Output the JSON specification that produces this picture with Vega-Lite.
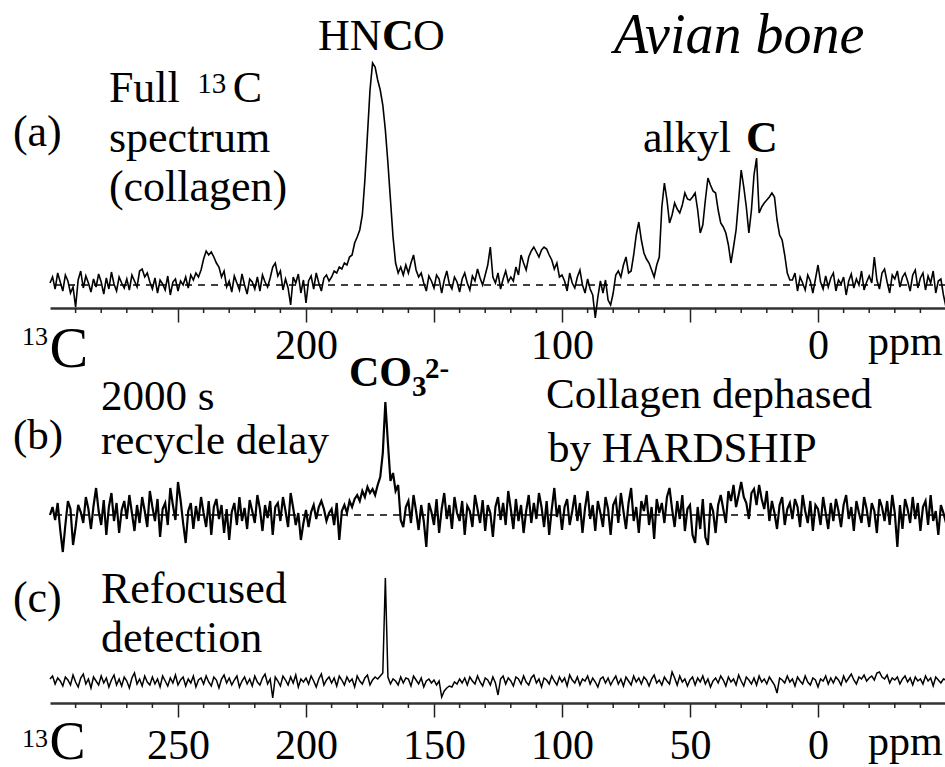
{
"$schema": "https://vega.github.io/schema/vega-lite/v6.json",
"background": "white",
"padding": {"left": 12, "top": 0, "right": 0, "bottom": 0},
"autosize": {"type": "pad"},
"bounds": "flush",
"spacing": 0,
"config": {"view": {"stroke": null}},
"datasets": {
"spec": [
{"x":300,"a":2,"b":0,"c":3},{"x":299,"a":8,"b":8,"c":6},{"x":298,"a":-4,"b":-5,"c":-2},{"x":297,"a":12,"b":12,"c":4},{"x":296,"a":3,"b":-15,"c":1},{"x":295,"a":-6,"b":-37,"c":-4},{"x":294,"a":10,"b":-10,"c":5},{"x":293,"a":4,"b":14,"c":2},{"x":292,"a":-8,"b":6,"c":-3},{"x":291,"a":-2,"b":-30,"c":7},
{"x":290,"a":-22,"b":-12,"c":0},{"x":289,"a":5,"b":10,"c":-5},{"x":288,"a":14,"b":3,"c":4},{"x":287,"a":-3,"b":-8,"c":8},{"x":286,"a":9,"b":18,"c":-2},{"x":285,"a":2,"b":6,"c":3},{"x":284,"a":-7,"b":-14,"c":-6},{"x":283,"a":6,"b":9,"c":5},{"x":282,"a":-2,"b":27,"c":1},{"x":281,"a":11,"b":4,"c":-3},
{"x":280,"a":3,"b":-10,"c":6},{"x":279,"a":-9,"b":15,"c":-1},{"x":278,"a":7,"b":-20,"c":4},{"x":277,"a":-4,"b":8,"c":-5},{"x":276,"a":13,"b":22,"c":2},{"x":275,"a":1,"b":-6,"c":7},{"x":274,"a":-6,"b":12,"c":-3},{"x":273,"a":8,"b":-18,"c":3},{"x":272,"a":2,"b":5,"c":-4},{"x":271,"a":-3,"b":14,"c":5},
{"x":270,"a":6,"b":-4,"c":1},{"x":269,"a":-5,"b":20,"c":-6},{"x":268,"a":10,"b":2,"c":4},{"x":267,"a":4,"b":-16,"c":9},{"x":266,"a":-2,"b":10,"c":-2},{"x":265,"a":14,"b":-8,"c":3},{"x":264,"a":16,"b":18,"c":-4},{"x":263,"a":8,"b":4,"c":6},{"x":262,"a":12,"b":-12,"c":0},{"x":261,"a":3,"b":24,"c":-3},
{"x":260,"a":-4,"b":8,"c":5},{"x":259,"a":7,"b":-6,"c":-2},{"x":258,"a":-8,"b":16,"c":3},{"x":257,"a":5,"b":-22,"c":-5},{"x":256,"a":1,"b":6,"c":6},{"x":255,"a":-5,"b":12,"c":1},{"x":254,"a":9,"b":-10,"c":-4},{"x":253,"a":-10,"b":27,"c":4},{"x":252,"a":3,"b":10,"c":-1},{"x":251,"a":6,"b":-5,"c":7},
{"x":250,"a":-6,"b":33,"c":-3},{"x":249,"a":4,"b":15,"c":2},{"x":248,"a":0,"b":-8,"c":5},{"x":247,"a":8,"b":-28,"c":-4},{"x":246,"a":-3,"b":4,"c":3},{"x":245,"a":10,"b":12,"c":-1},{"x":244,"a":5,"b":-14,"c":6},{"x":243,"a":12,"b":9,"c":-5},{"x":242,"a":8,"b":-6,"c":2},{"x":241,"a":15,"b":18,"c":4},
{"x":240,"a":26,"b":2,"c":-2},{"x":239,"a":34,"b":-12,"c":6},{"x":238,"a":30,"b":14,"c":0},{"x":237,"a":33,"b":-20,"c":-4},{"x":236,"a":28,"b":8,"c":5},{"x":235,"a":22,"b":16,"c":2},{"x":234,"a":18,"b":-4,"c":-6},{"x":233,"a":8,"b":10,"c":3},{"x":232,"a":14,"b":-18,"c":7},{"x":231,"a":-2,"b":6,"c":-1},
{"x":230,"a":4,"b":-25,"c":4},{"x":229,"a":-7,"b":3,"c":-3},{"x":228,"a":9,"b":12,"c":2},{"x":227,"a":2,"b":-10,"c":6},{"x":226,"a":-5,"b":18,"c":-5},{"x":225,"a":11,"b":-6,"c":1},{"x":224,"a":0,"b":7,"c":5},{"x":223,"a":-9,"b":-14,"c":-2},{"x":222,"a":6,"b":15,"c":3},{"x":221,"a":3,"b":4,"c":-4},
{"x":220,"a":-4,"b":-8,"c":6},{"x":219,"a":8,"b":20,"c":0},{"x":218,"a":-6,"b":6,"c":-3},{"x":217,"a":10,"b":-16,"c":4},{"x":216,"a":3,"b":10,"c":8},{"x":215,"a":-2,"b":-3,"c":-2},{"x":214,"a":7,"b":14,"c":3},{"x":213,"a":18,"b":-20,"c":-16},{"x":212,"a":22,"b":8,"c":5},{"x":211,"a":9,"b":12,"c":1},
{"x":210,"a":14,"b":-6,"c":-4},{"x":209,"a":-5,"b":18,"c":6},{"x":208,"a":6,"b":4,"c":2},{"x":207,"a":-3,"b":-12,"c":-3},{"x":206,"a":-20,"b":22,"c":5},{"x":205,"a":8,"b":7,"c":-1},{"x":204,"a":2,"b":-10,"c":7},{"x":203,"a":11,"b":2,"c":-5},{"x":202,"a":-8,"b":-25,"c":3},{"x":201,"a":5,"b":-8,"c":0},
{"x":200,"a":-18,"b":5,"c":4},{"x":199,"a":4,"b":-12,"c":-2},{"x":198,"a":9,"b":3,"c":6},{"x":197,"a":-4,"b":10,"c":1},{"x":196,"a":12,"b":-4,"c":-5},{"x":195,"a":2,"b":8,"c":3},{"x":194,"a":-6,"b":14,"c":8},{"x":193,"a":7,"b":6,"c":-3},{"x":192,"a":10,"b":-6,"c":2},{"x":191,"a":4,"b":2,"c":5},
{"x":190,"a":8,"b":6,"c":-1},{"x":189,"a":14,"b":-10,"c":4},{"x":188,"a":12,"b":12,"c":-4},{"x":187,"a":18,"b":-25,"c":6},{"x":186,"a":16,"b":4,"c":2},{"x":185,"a":22,"b":10,"c":-3},{"x":184,"a":20,"b":2,"c":5},{"x":183,"a":28,"b":14,"c":0},{"x":182,"a":30,"b":8,"c":3},{"x":181,"a":42,"b":16,"c":-5},
{"x":180,"a":48,"b":20,"c":6},{"x":179,"a":55,"b":14,"c":1},{"x":178,"a":70,"b":24,"c":-2},{"x":177,"a":105,"b":18,"c":4},{"x":176,"a":150,"b":28,"c":7},{"x":175,"a":195,"b":22,"c":-3},{"x":174,"a":222,"b":26,"c":2},{"x":173,"a":218,"b":20,"c":5},{"x":172,"a":205,"b":30,"c":3},{"x":171,"a":195,"b":38,"c":6},
{"x":170,"a":180,"b":62,"c":9},{"x":169,"a":155,"b":113,"c":104},{"x":168,"a":122,"b":72,"c":5},{"x":167,"a":85,"b":34,"c":-2},{"x":166,"a":48,"b":42,"c":3},{"x":165,"a":22,"b":24,"c":1},{"x":164,"a":12,"b":30,"c":-3},{"x":163,"a":18,"b":-5,"c":5},{"x":162,"a":10,"b":-12,"c":-1},{"x":161,"a":20,"b":8,"c":4},
{"x":160,"a":12,"b":14,"c":3},{"x":159,"a":22,"b":-8,"c":-4},{"x":158,"a":30,"b":20,"c":6},{"x":157,"a":15,"b":4,"c":2},{"x":156,"a":8,"b":-15,"c":-2},{"x":155,"a":12,"b":10,"c":4},{"x":154,"a":2,"b":-6,"c":-5},{"x":153,"a":-6,"b":-32,"c":1},{"x":152,"a":9,"b":12,"c":3},{"x":151,"a":4,"b":3,"c":-1},
{"x":150,"a":-3,"b":-10,"c":2},{"x":149,"a":10,"b":16,"c":-3},{"x":148,"a":6,"b":-18,"c":1},{"x":147,"a":-8,"b":6,"c":-15},{"x":146,"a":5,"b":22,"c":-9},{"x":145,"a":14,"b":-4,"c":-6},{"x":144,"a":1,"b":10,"c":-4},{"x":143,"a":-4,"b":-14,"c":-5},{"x":142,"a":8,"b":18,"c":0},{"x":141,"a":3,"b":2,"c":-2},
{"x":140,"a":-7,"b":-6,"c":3},{"x":139,"a":6,"b":14,"c":-1},{"x":138,"a":12,"b":-20,"c":4},{"x":137,"a":2,"b":9,"c":-3},{"x":136,"a":-5,"b":4,"c":5},{"x":135,"a":9,"b":-12,"c":1},{"x":134,"a":4,"b":20,"c":-2},{"x":133,"a":16,"b":6,"c":6},{"x":132,"a":7,"b":-8,"c":0},{"x":131,"a":0,"b":15,"c":-4},
{"x":130,"a":10,"b":-16,"c":4},{"x":129,"a":20,"b":10,"c":2},{"x":128,"a":38,"b":2,"c":-3},{"x":127,"a":8,"b":-22,"c":5},{"x":126,"a":2,"b":8,"c":-1},{"x":125,"a":12,"b":18,"c":-13},{"x":124,"a":-4,"b":-5,"c":3},{"x":123,"a":6,"b":12,"c":6},{"x":122,"a":14,"b":-10,"c":-2},{"x":121,"a":3,"b":24,"c":4},
{"x":120,"a":8,"b":6,"c":1},{"x":119,"a":4,"b":-14,"c":-4},{"x":118,"a":18,"b":16,"c":5},{"x":117,"a":10,"b":-6,"c":3},{"x":116,"a":30,"b":10,"c":-2},{"x":115,"a":22,"b":-18,"c":6},{"x":114,"a":15,"b":4,"c":0},{"x":113,"a":28,"b":20,"c":-3},{"x":112,"a":34,"b":-8,"c":4},{"x":111,"a":38,"b":12,"c":7},
{"x":110,"a":33,"b":-4,"c":-1},{"x":109,"a":28,"b":22,"c":3},{"x":108,"a":35,"b":8,"c":-5},{"x":107,"a":38,"b":-12,"c":4},{"x":106,"a":36,"b":14,"c":2},{"x":105,"a":30,"b":-20,"c":-2},{"x":104,"a":25,"b":6,"c":6},{"x":103,"a":16,"b":27,"c":1},{"x":102,"a":22,"b":-2,"c":-3},{"x":101,"a":8,"b":10,"c":5},
{"x":100,"a":10,"b":-15,"c":0},{"x":99,"a":4,"b":8,"c":4},{"x":98,"a":-6,"b":16,"c":-4},{"x":97,"a":12,"b":-10,"c":7},{"x":96,"a":2,"b":4,"c":2},{"x":95,"a":-3,"b":20,"c":-1},{"x":94,"a":8,"b":-6,"c":5},{"x":93,"a":15,"b":12,"c":-3},{"x":92,"a":0,"b":-18,"c":3},{"x":91,"a":-8,"b":7,"c":1},
{"x":90,"a":6,"b":24,"c":6},{"x":89,"a":-4,"b":-4,"c":-2},{"x":88,"a":-10,"b":10,"c":4},{"x":87,"a":-33,"b":-16,"c":0},{"x":86,"a":-12,"b":14,"c":-5},{"x":85,"a":4,"b":2,"c":3},{"x":84,"a":-8,"b":-12,"c":5},{"x":83,"a":5,"b":18,"c":-1},{"x":82,"a":-15,"b":6,"c":4},{"x":81,"a":-20,"b":-20,"c":-3},
{"x":80,"a":-8,"b":10,"c":2},{"x":79,"a":10,"b":16,"c":6},{"x":78,"a":14,"b":-8,"c":-2},{"x":77,"a":8,"b":22,"c":3},{"x":76,"a":20,"b":4,"c":-4},{"x":75,"a":28,"b":-14,"c":5},{"x":74,"a":12,"b":12,"c":1},{"x":73,"a":14,"b":27,"c":-3},{"x":72,"a":30,"b":-6,"c":6},{"x":71,"a":50,"b":8,"c":0},
{"x":70,"a":63,"b":-18,"c":4},{"x":69,"a":45,"b":14,"c":-2},{"x":68,"a":32,"b":4,"c":5},{"x":67,"a":26,"b":20,"c":2},{"x":66,"a":22,"b":-10,"c":-4},{"x":65,"a":15,"b":8,"c":3},{"x":64,"a":8,"b":-24,"c":7},{"x":63,"a":20,"b":16,"c":-1},{"x":62,"a":28,"b":2,"c":2},{"x":61,"a":78,"b":12,"c":-3},
{"x":60,"a":102,"b":-8,"c":5},{"x":59,"a":85,"b":18,"c":1},{"x":58,"a":62,"b":27,"c":-2},{"x":57,"a":70,"b":6,"c":10},{"x":56,"a":82,"b":-12,"c":4},{"x":55,"a":76,"b":14,"c":-3},{"x":54,"a":72,"b":-4,"c":6},{"x":53,"a":80,"b":20,"c":0},{"x":52,"a":92,"b":-16,"c":3},{"x":51,"a":86,"b":6,"c":-4},
{"x":50,"a":85,"b":10,"c":2},{"x":49,"a":88,"b":-20,"c":5},{"x":48,"a":92,"b":-28,"c":-3},{"x":47,"a":75,"b":8,"c":4},{"x":46,"a":52,"b":-14,"c":0},{"x":45,"a":60,"b":16,"c":6},{"x":44,"a":85,"b":-22,"c":-2},{"x":43,"a":107,"b":-30,"c":3},{"x":42,"a":100,"b":12,"c":-5},{"x":41,"a":94,"b":4,"c":1},
{"x":40,"a":92,"b":-18,"c":4},{"x":39,"a":75,"b":10,"c":-1},{"x":38,"a":62,"b":20,"c":6},{"x":37,"a":58,"b":6,"c":2},{"x":36,"a":52,"b":-8,"c":-4},{"x":35,"a":40,"b":24,"c":5},{"x":34,"a":22,"b":14,"c":0},{"x":33,"a":38,"b":30,"c":3},{"x":32,"a":55,"b":8,"c":-3},{"x":31,"a":85,"b":20,"c":7},
{"x":30,"a":115,"b":33,"c":1},{"x":29,"a":98,"b":18,"c":-4},{"x":28,"a":78,"b":12,"c":5},{"x":27,"a":52,"b":-4,"c":2},{"x":26,"a":75,"b":22,"c":-2},{"x":25,"a":110,"b":26,"c":4},{"x":24,"a":127,"b":10,"c":-3},{"x":23,"a":72,"b":30,"c":6},{"x":22,"a":78,"b":16,"c":0},{"x":21,"a":82,"b":6,"c":3},
{"x":20,"a":85,"b":24,"c":-2},{"x":19,"a":88,"b":-6,"c":5},{"x":18,"a":92,"b":14,"c":1},{"x":17,"a":88,"b":2,"c":-3},{"x":16,"a":65,"b":-14,"c":-11},{"x":15,"a":50,"b":10,"c":4},{"x":14,"a":45,"b":18,"c":2},{"x":13,"a":30,"b":-10,"c":-1},{"x":12,"a":12,"b":6,"c":6},{"x":11,"a":5,"b":12,"c":0},
{"x":10,"a":5,"b":-4,"c":3},{"x":9,"a":12,"b":16,"c":-4},{"x":8,"a":-6,"b":8,"c":5},{"x":7,"a":8,"b":-12,"c":1},{"x":6,"a":2,"b":20,"c":-2},{"x":5,"a":-5,"b":4,"c":6},{"x":4,"a":10,"b":-8,"c":0},{"x":3,"a":4,"b":14,"c":-3},{"x":2,"a":-8,"b":-16,"c":4},{"x":1,"a":6,"b":10,"c":2},
{"x":0,"a":20,"b":6,"c":-5},{"x":-1,"a":3,"b":-10,"c":3},{"x":-2,"a":-4,"b":18,"c":1},{"x":-3,"a":9,"b":2,"c":6},{"x":-4,"a":-2,"b":-14,"c":-2},{"x":-5,"a":7,"b":12,"c":4},{"x":-6,"a":12,"b":-6,"c":-1},{"x":-7,"a":-6,"b":16,"c":5},{"x":-8,"a":5,"b":4,"c":2},{"x":-9,"a":1,"b":-12,"c":-3},
{"x":-10,"a":8,"b":10,"c":6},{"x":-11,"a":-10,"b":20,"c":0},{"x":-12,"a":4,"b":-4,"c":4},{"x":-13,"a":11,"b":8,"c":8},{"x":-14,"a":-3,"b":-16,"c":2},{"x":-15,"a":6,"b":14,"c":-2},{"x":-16,"a":0,"b":2,"c":5},{"x":-17,"a":14,"b":-8,"c":3},{"x":-18,"a":-5,"b":18,"c":7},{"x":-19,"a":3,"b":6,"c":1},
{"x":-20,"a":9,"b":-12,"c":4},{"x":-21,"a":2,"b":12,"c":6},{"x":-22,"a":28,"b":4,"c":2},{"x":-23,"a":5,"b":-18,"c":9},{"x":-24,"a":-4,"b":16,"c":10},{"x":-25,"a":12,"b":8,"c":5},{"x":-26,"a":16,"b":-6,"c":3},{"x":-27,"a":3,"b":14,"c":7},{"x":-28,"a":-8,"b":-10,"c":-1},{"x":-29,"a":10,"b":20,"c":4},
{"x":-30,"a":6,"b":2,"c":2},{"x":-31,"a":14,"b":-32,"c":5},{"x":-32,"a":-2,"b":10,"c":-2},{"x":-33,"a":8,"b":-14,"c":3},{"x":-34,"a":12,"b":16,"c":6},{"x":-35,"a":4,"b":6,"c":0},{"x":-36,"a":-6,"b":-8,"c":4},{"x":-37,"a":10,"b":18,"c":-3},{"x":-38,"a":15,"b":-4,"c":5},{"x":-39,"a":-3,"b":12,"c":1},
{"x":-40,"a":7,"b":-16,"c":3},{"x":-41,"a":12,"b":8,"c":-2},{"x":-42,"a":-5,"b":14,"c":6},{"x":-43,"a":9,"b":-10,"c":1},{"x":-44,"a":2,"b":20,"c":4},{"x":-45,"a":14,"b":-6,"c":-4},{"x":-46,"a":-8,"b":4,"c":5},{"x":-47,"a":4,"b":-20,"c":2},{"x":-48,"a":6,"b":10,"c":-1},{"x":-49,"a":-10,"b":2,"c":3},
{"x":-50,"a":-22,"b":-8,"c":2}
],
"minor": [{"t":290},{"t":280},{"t":270},{"t":260},{"t":240},{"t":230},{"t":220},{"t":210},{"t":190},{"t":180},{"t":170},{"t":160},{"t":140},{"t":130},{"t":120},{"t":110},{"t":90},{"t":80},{"t":70},{"t":60},{"t":40},{"t":30},{"t":20},{"t":10},{"t":-10},{"t":-20},{"t":-30},{"t":-40}],
"la1": [{"s":"(a)","x":314.5,"y":139},{"s":"Full","x":277,"y":183},{"s":"C","x":228.6,"y":183},{"s":"spectrum","x":277,"y":133},{"s":"(collagen)","x":277,"y":84},{"s":"HN","x":195.3,"y":235},{"s":"O","x":158.2,"y":235},{"s":"alkyl","x":68.4,"y":133}],
"la2": [{"s":"C","x":170.3,"y":235},{"s":"C","x":28.1,"y":133}],
"la3": [{"s":"13","x":242.5,"y":192}],
"la4": [{"s":"Avian bone","x":79.7,"y":232}],
"la5": [{"s":"13","x":310.9,"y":-60}],
"la6": [{"s":"C","x":300.2,"y":-82}],
"la7": [{"s":"ppm","x":-19.5,"y":-70}],
"lb1": [{"s":"(b)","x":314.5,"y":66},{"s":"2000 s","x":280.1,"y":105},{"s":"recycle delay","x":280.1,"y":61},{"s":"Collagen dephased","x":106.25,"y":107},{"s":"by HARDSHIP","x":105.5,"y":53}],
"lb2": [{"s":"CO","x":183.2,"y":129}],
"lb3": [{"s":"3","x":158.6,"y":119},{"s":"2-","x":153.5,"y":137}],
"lc1": [{"s":"(c)","x":314.5,"y":70},{"s":"Refocused","x":280.1,"y":79},{"s":"detection","x":280.1,"y":30}],
"lc5": [{"s":"13","x":310.9,"y":-65}],
"lc6": [{"s":"C","x":300.2,"y":-77}],
"lc7": [{"s":"ppm","x":-19.5,"y":-73}]
},
"vconcat": [
{
"width": 896, "height": 308,
"layer": [
{"data": {"values": [{}]}, "mark": {"type": "rule", "strokeDash": [7, 6], "strokeWidth": 1.3, "color": "black"},
 "encoding": {"y": {"datum": 0, "type": "quantitative", "scale": {"domain": [-23, 285], "nice": false, "zero": false}, "axis": null}}},
{"data": {"name": "spec"}, "mark": {"type": "line", "color": "black", "strokeWidth": 1.6},
 "encoding": {
  "x": {"field": "x", "type": "quantitative", "title": null, "scale": {"domain": [300, -50], "nice": false, "zero": false},
   "axis": {"values": [250, 200, 150, 100, 50, 0], "labelExpr": "datum.value % 100 === 0 ? datum.label : ''", "tickSize": 14, "tickWidth": 1.5, "tickColor": "#222", "domainColor": "#333", "domainWidth": 2.5, "labelFont": "Liberation Serif", "labelFontSize": 42, "labelColor": "black", "labelPadding": 36, "labelBaseline": "alphabetic", "labelFlush": false, "labelOverlap": false, "grid": false, "title": null}},
  "y": {"field": "a", "type": "quantitative", "title": null, "scale": {"domain": [-23, 285], "nice": false, "zero": false}, "axis": null}}},
{"data": {"name": "minor"}, "mark": {"type": "rule", "color": "#222", "strokeWidth": 1.5},
 "encoding": {"x": {"field": "t", "type": "quantitative", "title": null}, "y": {"datum": -23, "type": "quantitative", "axis": null}, "y2": {"datum": -28}}},
{"data": {"name": "la1"}, "mark": {"type": "text", "font": "Liberation Serif", "fontSize": 44, "align": "left", "baseline": "alphabetic", "color": "black"},
 "encoding": {"x": {"field": "x", "type": "quantitative", "title": null}, "y": {"field": "y", "type": "quantitative", "axis": null}, "text": {"field": "s"}}},
{"data": {"name": "la2"}, "mark": {"type": "text", "font": "Liberation Serif", "fontSize": 44, "fontWeight": "bold", "align": "left", "baseline": "alphabetic", "color": "black"},
 "encoding": {"x": {"field": "x", "type": "quantitative", "title": null}, "y": {"field": "y", "type": "quantitative", "axis": null}, "text": {"field": "s"}}},
{"data": {"name": "la3"}, "mark": {"type": "text", "font": "Liberation Serif", "fontSize": 29, "align": "left", "baseline": "alphabetic", "color": "black"},
 "encoding": {"x": {"field": "x", "type": "quantitative", "title": null}, "y": {"field": "y", "type": "quantitative", "axis": null}, "text": {"field": "s"}}},
{"data": {"name": "la4"}, "mark": {"type": "text", "font": "Liberation Serif", "fontSize": 56, "fontStyle": "italic", "align": "left", "baseline": "alphabetic", "color": "black"},
 "encoding": {"x": {"field": "x", "type": "quantitative", "title": null}, "y": {"field": "y", "type": "quantitative", "axis": null}, "text": {"field": "s"}}},
{"data": {"name": "la5"}, "mark": {"type": "text", "font": "Liberation Serif", "fontSize": 26, "align": "left", "baseline": "alphabetic", "color": "black"},
 "encoding": {"x": {"field": "x", "type": "quantitative", "title": null}, "y": {"field": "y", "type": "quantitative", "axis": null}, "text": {"field": "s"}}},
{"data": {"name": "la6"}, "mark": {"type": "text", "font": "Liberation Serif", "fontSize": 58, "align": "left", "baseline": "alphabetic", "color": "black"},
 "encoding": {"x": {"field": "x", "type": "quantitative", "title": null}, "y": {"field": "y", "type": "quantitative", "axis": null}, "text": {"field": "s"}}},
{"data": {"name": "la7"}, "mark": {"type": "text", "font": "Liberation Serif", "fontSize": 42, "align": "left", "baseline": "alphabetic", "color": "black"},
 "encoding": {"x": {"field": "x", "type": "quantitative", "title": null}, "y": {"field": "y", "type": "quantitative", "axis": null}, "text": {"field": "s"}}}
]
},
{
"width": 896, "height": 252,
"layer": [
{"data": {"values": [{}]}, "mark": {"type": "rule", "strokeDash": [7, 6], "strokeWidth": 1.3, "color": "black"},
 "encoding": {"y": {"datum": 0, "type": "quantitative", "scale": {"domain": [-45, 207], "nice": false, "zero": false}, "axis": null}}},
{"data": {"name": "spec"}, "mark": {"type": "line", "color": "black", "strokeWidth": 2.2},
 "encoding": {
  "x": {"field": "x", "type": "quantitative", "title": null, "scale": {"domain": [300, -50], "nice": false, "zero": false}, "axis": null},
  "y": {"field": "b", "type": "quantitative", "title": null, "scale": {"domain": [-45, 207], "nice": false, "zero": false}, "axis": null}}},
{"data": {"name": "lb1"}, "mark": {"type": "text", "font": "Liberation Serif", "fontSize": 43, "align": "left", "baseline": "alphabetic", "color": "black"},
 "encoding": {"x": {"field": "x", "type": "quantitative", "axis": null}, "y": {"field": "y", "type": "quantitative", "axis": null}, "text": {"field": "s"}}},
{"data": {"name": "lb2"}, "mark": {"type": "text", "font": "Liberation Serif", "fontSize": 42, "fontWeight": "bold", "align": "left", "baseline": "alphabetic", "color": "black"},
 "encoding": {"x": {"field": "x", "type": "quantitative", "axis": null}, "y": {"field": "y", "type": "quantitative", "axis": null}, "text": {"field": "s"}}},
{"data": {"name": "lb3"}, "mark": {"type": "text", "font": "Liberation Serif", "fontSize": 29, "fontWeight": "bold", "align": "left", "baseline": "alphabetic", "color": "black"},
 "encoding": {"x": {"field": "x", "type": "quantitative", "axis": null}, "y": {"field": "y", "type": "quantitative", "axis": null}, "text": {"field": "s"}}}
]
},
{
"width": 896, "height": 143,
"layer": [
{"data": {"name": "spec"}, "mark": {"type": "line", "color": "black", "strokeWidth": 1.5},
 "encoding": {
  "x": {"field": "x", "type": "quantitative", "title": null, "scale": {"domain": [300, -50], "nice": false, "zero": false},
   "axis": {"values": [250, 200, 150, 100, 50, 0], "tickSize": 14, "tickWidth": 1.5, "tickColor": "#222", "domainColor": "#333", "domainWidth": 2.5, "labelFont": "Liberation Serif", "labelFontSize": 42, "labelColor": "black", "labelPadding": 41, "labelBaseline": "alphabetic", "labelFlush": false, "labelOverlap": false, "grid": false, "title": null}},
  "y": {"field": "c", "type": "quantitative", "title": null, "scale": {"domain": [-21, 122], "nice": false, "zero": false}, "axis": null}}},
{"data": {"name": "minor"}, "mark": {"type": "rule", "color": "#222", "strokeWidth": 1.5},
 "encoding": {"x": {"field": "t", "type": "quantitative", "title": null}, "y": {"datum": -21, "type": "quantitative", "axis": null}, "y2": {"datum": -26}}},
{"data": {"name": "lc1"}, "mark": {"type": "text", "font": "Liberation Serif", "fontSize": 44, "align": "left", "baseline": "alphabetic", "color": "black"},
 "encoding": {"x": {"field": "x", "type": "quantitative", "title": null}, "y": {"field": "y", "type": "quantitative", "axis": null}, "text": {"field": "s"}}},
{"data": {"name": "lc5"}, "mark": {"type": "text", "font": "Liberation Serif", "fontSize": 26, "align": "left", "baseline": "alphabetic", "color": "black"},
 "encoding": {"x": {"field": "x", "type": "quantitative", "title": null}, "y": {"field": "y", "type": "quantitative", "axis": null}, "text": {"field": "s"}}},
{"data": {"name": "lc6"}, "mark": {"type": "text", "font": "Liberation Serif", "fontSize": 54, "align": "left", "baseline": "alphabetic", "color": "black"},
 "encoding": {"x": {"field": "x", "type": "quantitative", "title": null}, "y": {"field": "y", "type": "quantitative", "axis": null}, "text": {"field": "s"}}},
{"data": {"name": "lc7"}, "mark": {"type": "text", "font": "Liberation Serif", "fontSize": 42, "align": "left", "baseline": "alphabetic", "color": "black"},
 "encoding": {"x": {"field": "x", "type": "quantitative", "title": null}, "y": {"field": "y", "type": "quantitative", "axis": null}, "text": {"field": "s"}}}
]
}
]
}
